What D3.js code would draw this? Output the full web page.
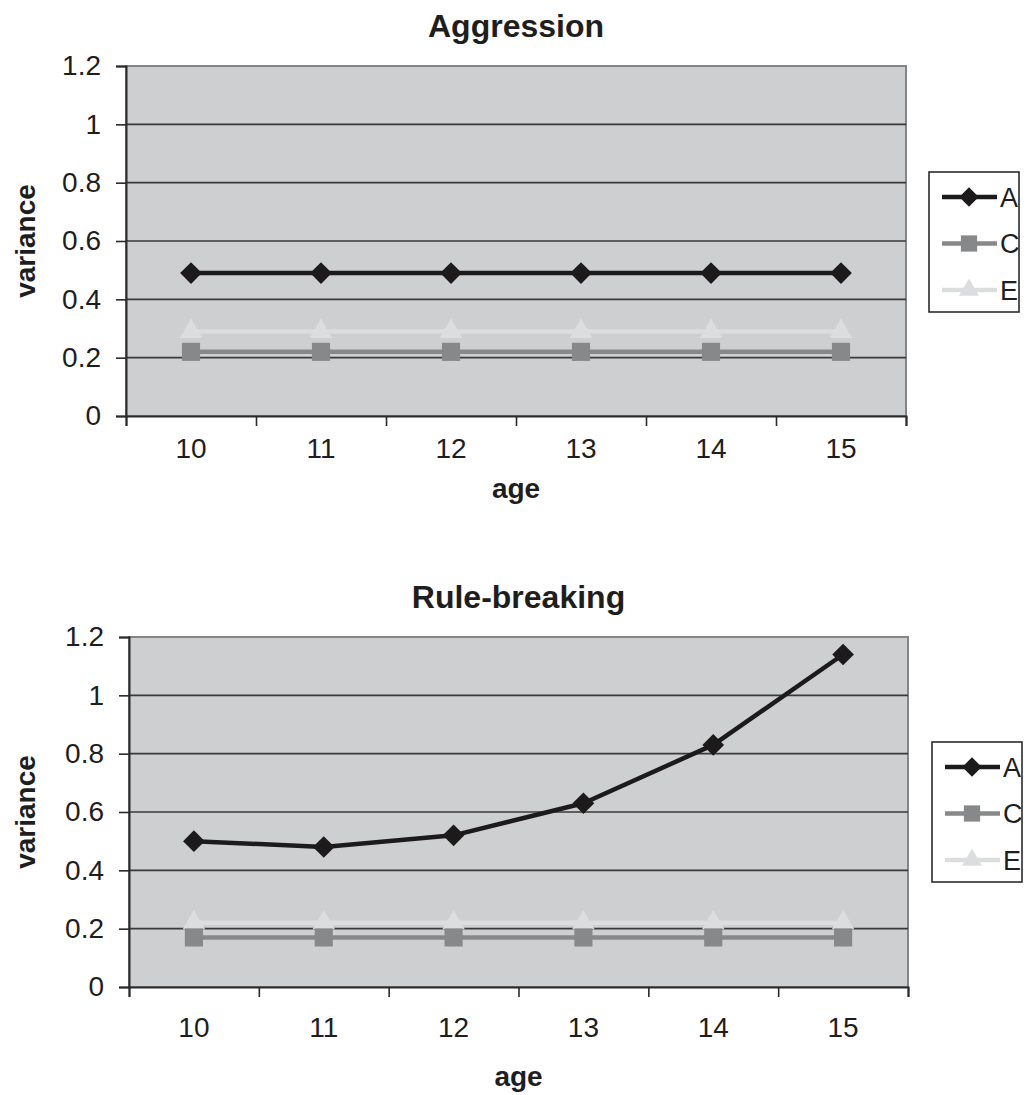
<!DOCTYPE html>
<html lang="en">
<head>
<meta charset="utf-8">
<script src="https://d3js.org/d3.v7.min.js"></script>
<style type="text/css">
  body {
    margin: 0;
    background: #fff;
    font-family: "Liberation Sans", Arial, sans-serif;
  }
</style>
</head>
<body>
<script type="text/javascript">

  // Data
  var ages = ["10", "11", "12", "13", "14", "15"];
  var seriesNames = ["A", "C", "E"];
  var yTicks = [0, 0.2, 0.4, 0.6, 0.8, 1, 1.2];

  var aggA = [0.49, 0.49, 0.49, 0.49, 0.49, 0.49];
  var aggC = [0.22, 0.22, 0.22, 0.22, 0.22, 0.22];
  var aggE = [0.29, 0.29, 0.29, 0.29, 0.29, 0.29];

  var ruleA = [0.50, 0.48, 0.52, 0.63, 0.83, 1.14];
  var ruleC = [0.17, 0.17, 0.17, 0.17, 0.17, 0.17];
  var ruleE = [0.22, 0.22, 0.22, 0.22, 0.22, 0.22];

  var width = 1029;
  var height = 1095;

  // look of each series (A dark diamond, C grey square, E light triangle)
  var seriesStyle = {
    A: { color: "#1c1a1b", symbol: d3.symbolDiamond2, size: 300 },
    C: { color: "#87888a", symbol: d3.symbolSquare2, size: 420 },
    E: { color: "#dcdddf", symbol: d3.symbolTriangle2, size: 360 }
  };

  var svg = d3.select("body")
    .append("svg")
    .attr("width", width)
    .attr("height", height);

  function drawChart(opts) {
    var g = svg.append("g");

    var x = d3.scaleBand()
      .domain(ages)
      .range([opts.left, opts.right]);

    var y = d3.scaleLinear()
      .domain([0, 1.2])
      .range([opts.bottom, opts.top]);

    // plot area
    g.append("rect")
      .attr("x", opts.left)
      .attr("y", opts.top)
      .attr("width", opts.right - opts.left)
      .attr("height", opts.bottom - opts.top)
      .style("fill", "#cecfd1")
      .style("stroke", "#858585")
      .style("stroke-width", 2);

    // gridlines
    g.selectAll(".grid")
      .data(yTicks.filter(function(d) { return d > 0 && d < 1.2; }))
      .enter()
      .append("line")
      .attr("x1", opts.left)
      .attr("x2", opts.right)
      .attr("y1", function(d) { return y(d); })
      .attr("y2", function(d) { return y(d); })
      .style("stroke", "#3a3a3a")
      .style("stroke-width", 1.6);

    // y axis
    var yAxis = g.append("g")
      .attr("transform", "translate(" + opts.left + ",0)")
      .call(d3.axisLeft(y).tickValues(yTicks).tickSize(10).tickPadding(15)
        .tickFormat(function(d) { return d3.format("")(+d.toFixed(1)); }));
    yAxis.select(".domain").style("stroke", "#2a2a2a").style("stroke-width", 2);
    yAxis.selectAll(".tick line").style("stroke", "#2a2a2a").style("stroke-width", 1.6);
    yAxis.selectAll("text")
      .style("font-family", "Liberation Sans, Arial, sans-serif")
      .style("font-size", "28px")
      .style("fill", "#1e1e1e");

    // x axis: tick marks at category boundaries
    var edges = d3.scaleLinear().domain([0, ages.length]).range([opts.left, opts.right]);
    var xTicks = g.append("g")
      .attr("transform", "translate(0," + opts.bottom + ")")
      .call(d3.axisBottom(edges).tickValues(d3.range(ages.length + 1)).tickSize(10).tickFormat(""));
    xTicks.select(".domain").style("stroke", "#2a2a2a").style("stroke-width", 2);
    xTicks.selectAll(".tick line").style("stroke", "#2a2a2a").style("stroke-width", 1.6);

    var xAxis = g.append("g")
      .attr("transform", "translate(0," + opts.bottom + ")")
      .call(d3.axisBottom(x).tickSize(0).tickPadding(opts.labelPad));
    xAxis.select(".domain").remove();
    xAxis.selectAll("text")
      .style("font-family", "Liberation Sans, Arial, sans-serif")
      .style("font-size", "28px")
      .style("fill", "#1e1e1e");

    // title and axis titles
    g.append("text")
      .attr("x", (opts.left + opts.right) / 2)
      .attr("y", opts.top - 29)
      .attr("text-anchor", "middle")
      .style("font-size", "32px")
      .style("font-weight", "bold")
      .style("fill", "#1e1e1e")
      .text(opts.title);

    g.append("text")
      .attr("x", (opts.left + opts.right) / 2)
      .attr("y", opts.bottom + opts.agePad)
      .attr("text-anchor", "middle")
      .style("font-size", "28px")
      .style("font-weight", "bold")
      .style("fill", "#1e1e1e")
      .text("age");

    g.append("text")
      .attr("transform", "translate(35," + (opts.top + opts.bottom) / 2 + ") rotate(-90)")
      .attr("text-anchor", "middle")
      .style("font-size", "28px")
      .style("font-weight", "bold")
      .style("fill", "#1e1e1e")
      .text("variance");

    // series lines and markers
    var line = d3.line()
      .x(function(d, i) { return x(ages[i]) + x.bandwidth() / 2; })
      .y(function(d) { return y(d); });

    var order = ["E", "C", "A"];
    order.forEach(function(name) {
      var values = opts.series[name];
      var st = seriesStyle[name];
      g.append("path")
        .datum(values)
        .attr("d", line)
        .style("fill", "none")
        .style("stroke", st.color)
        .style("stroke-width", 4.5)
        .style("stroke-linejoin", "round");

      g.selectAll(".mk-" + name)
        .data(values)
        .enter()
        .append("path")
        .attr("class", "mk-" + name)
        .attr("transform", function(d, i) {
          return "translate(" + (x(ages[i]) + x.bandwidth() / 2) + "," + y(d) + ")";
        })
        .attr("d", d3.symbol().type(st.symbol).size(st.size))
        .style("fill", st.color);
    });

    // legend
    var lg = g.append("g")
      .attr("transform", "translate(" + opts.legendX + "," + opts.legendY + ")");

    lg.append("rect")
      .attr("width", 90)
      .attr("height", 140)
      .style("fill", "#fff")
      .style("stroke", "#1e1e1e")
      .style("stroke-width", 1.5);

    var item = lg.selectAll(".item")
      .data(seriesNames)
      .enter()
      .append("g")
      .attr("transform", function(d, i) { return "translate(0," + (25 + i * 46.5) + ")"; });

    item.append("line")
      .attr("x1", 13)
      .attr("x2", 68)
      .style("stroke", function(d) { return seriesStyle[d].color; })
      .style("stroke-width", 4.5);

    item.append("path")
      .attr("transform", "translate(40,0)")
      .attr("d", function(d) {
        return d3.symbol().type(seriesStyle[d].symbol).size(seriesStyle[d].size * 0.8)();
      })
      .style("fill", function(d) { return seriesStyle[d].color; });

    item.append("text")
      .attr("x", 71)
      .attr("dy", "0.36em")
      .style("font-size", "27px")
      .style("fill", "#1e1e1e")
      .text(function(d) { return d; });
  }

  drawChart({
    title: "Aggression",
    left: 126, right: 906, top: 66, bottom: 416,
    labelPad: 22, agePad: 82,
    legendX: 929, legendY: 172,
    series: { A: aggA, C: aggC, E: aggE }
  });

  drawChart({
    title: "Rule-breaking",
    left: 129, right: 908, top: 637, bottom: 987,
    labelPad: 30, agePad: 99,
    legendX: 932, legendY: 742,
    series: { A: ruleA, C: ruleC, E: ruleE }
  });
</script>
</body>
</html>
